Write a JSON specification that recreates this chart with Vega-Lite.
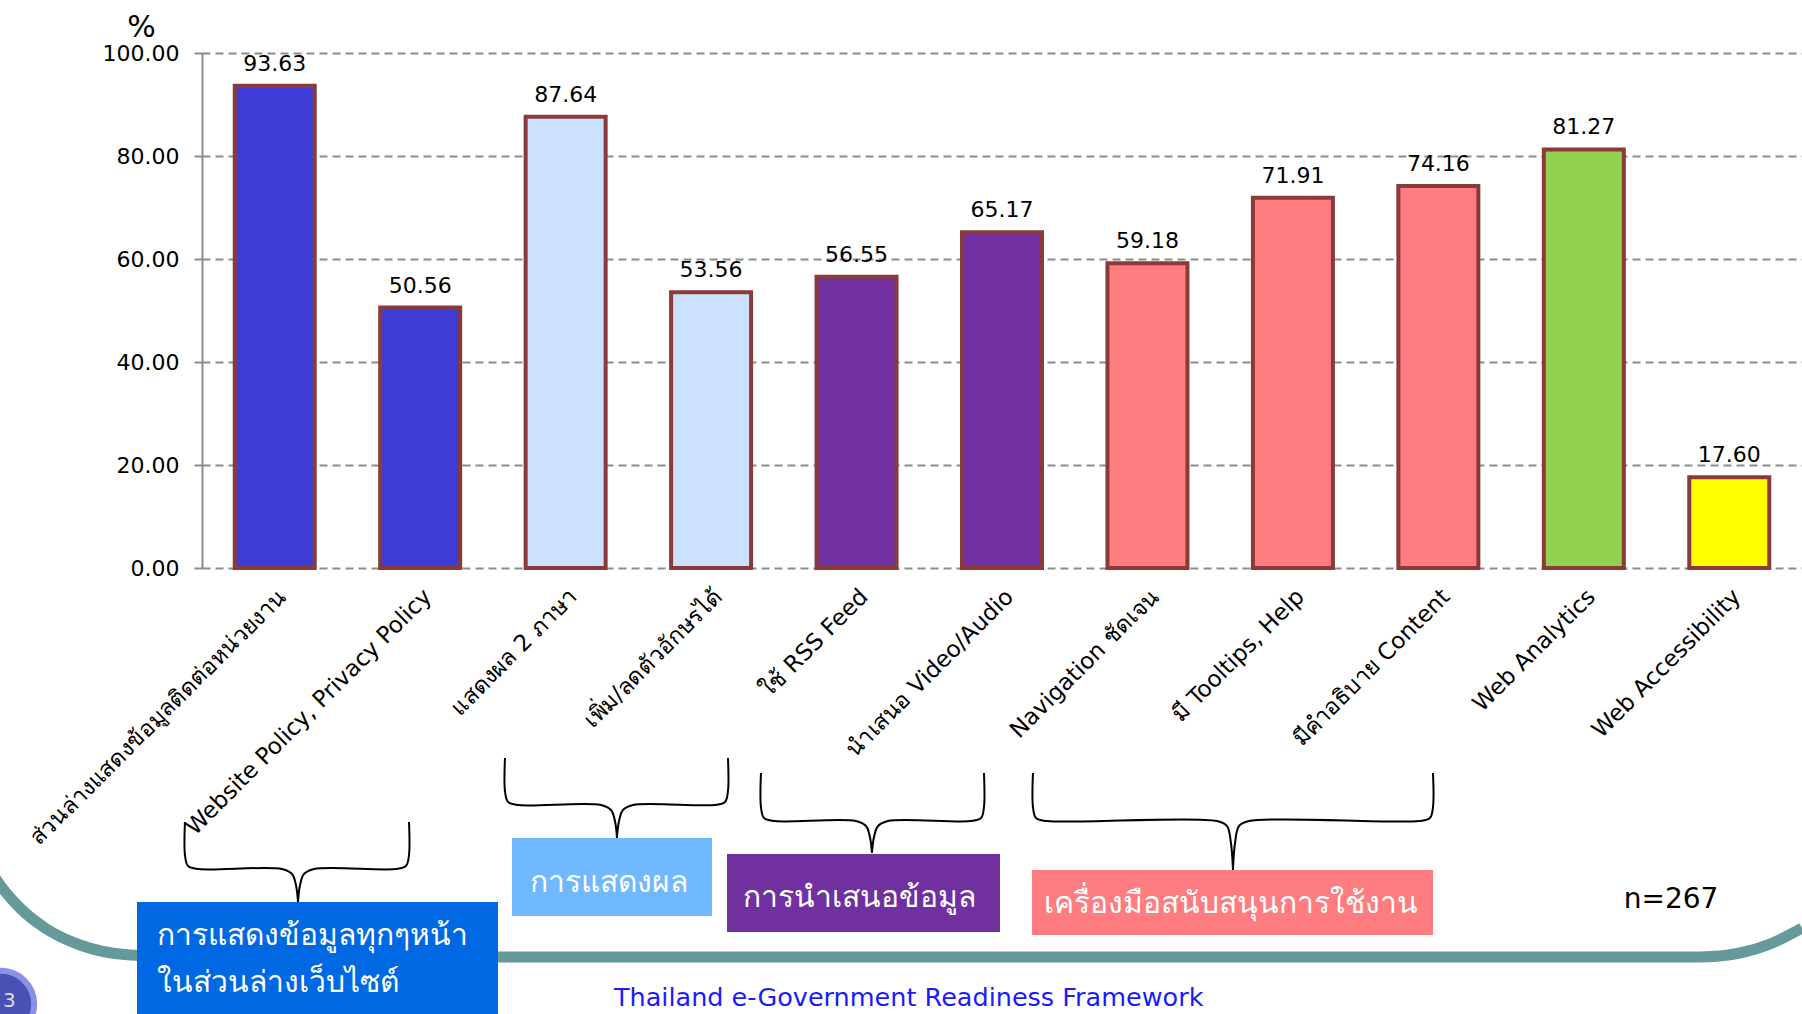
{
  "$schema": "https://vega.github.io/schema/vega-lite/v6.json",
  "width": 1600,
  "height": 515,
  "autosize": {"type": "none"},
  "padding": {"left": 202, "top": 53, "right": 0, "bottom": 446},
  "background": "white",
  "config": {"view": {"stroke": null}, "font": "DejaVu Sans"},
  "datasets": {
    "bars": [
      {"cat": "ส่วนล่างแสดงข้อมูลติดต่อหน่วยงาน", "v": 93.63, "grp": "การแสดงข้อมูลทุกๆหน้าในส่วนล่างเว็บไซต์"},
      {"cat": "Website Policy, Privacy Policy", "v": 50.56, "grp": "การแสดงข้อมูลทุกๆหน้าในส่วนล่างเว็บไซต์"},
      {"cat": "แสดงผล 2 ภาษา", "v": 87.64, "grp": "การแสดงผล"},
      {"cat": "เพิ่ม/ลดตัวอักษรได้", "v": 53.56, "grp": "การแสดงผล"},
      {"cat": "ใช้ RSS Feed", "v": 56.55, "grp": "การนำเสนอข้อมูล"},
      {"cat": "นำเสนอ Video/Audio", "v": 65.17, "grp": "การนำเสนอข้อมูล"},
      {"cat": "Navigation ชัดเจน", "v": 59.18, "grp": "เครื่องมือสนับสนุนการใช้งาน"},
      {"cat": "มี Tooltips, Help", "v": 71.91, "grp": "เครื่องมือสนับสนุนการใช้งาน"},
      {"cat": "มีคำอธิบาย Content", "v": 74.16, "grp": "เครื่องมือสนับสนุนการใช้งาน"},
      {"cat": "Web Analytics", "v": 81.27, "grp": "Web Analytics"},
      {"cat": "Web Accessibility", "v": 17.60, "grp": "Web Accessibility"}
    ],
    "teal": [
      {"k": 0, "x": -1.4575, "y": -58.64},
      {"k": 1, "x": -1.3888, "y": -61.55},
      {"k": 2, "x": -1.2513, "y": -66.02},
      {"k": 3, "x": -1.0794, "y": -69.90},
      {"k": 4, "x": -0.8388, "y": -73.20},
      {"k": 5, "x": -0.4950, "y": -75.15},
      {"k": 6, "x": -0.0138, "y": -75.53},
      {"k": 7, "x": 10.299, "y": -75.53},
      {"k": 8, "x": 10.574, "y": -74.76},
      {"k": 9, "x": 10.780, "y": -73.01},
      {"k": 10, "x": 11.0, "y": -69.90}
    ],
    "braces": [
      {"b": "1L", "k": 1, "x": -0.117, "y": -49.32},
      {"b": "1L", "k": 2, "x": -0.117, "y": -55.73},
      {"b": "1L", "k": 3, "x": -0.096, "y": -57.87},
      {"b": "1L", "k": 4, "x": -0.021, "y": -58.45},
      {"b": "1L", "k": 5, "x": 0.550, "y": -58.45},
      {"b": "1L", "k": 6, "x": 0.619, "y": -59.42},
      {"b": "1L", "k": 7, "x": 0.646, "y": -61.56},
      {"b": "1L", "k": 8, "x": 0.660, "y": -64.85},
      {"b": "1R", "k": 1, "x": 0.660, "y": -64.85},
      {"b": "1R", "k": 2, "x": 0.674, "y": -61.56},
      {"b": "1R", "k": 3, "x": 0.701, "y": -59.42},
      {"b": "1R", "k": 4, "x": 0.770, "y": -58.45},
      {"b": "1R", "k": 5, "x": 1.327, "y": -58.45},
      {"b": "1R", "k": 6, "x": 1.402, "y": -57.87},
      {"b": "1R", "k": 7, "x": 1.423, "y": -55.73},
      {"b": "1R", "k": 8, "x": 1.423, "y": -49.32},
      {"b": "2L", "k": 1, "x": 2.083, "y": -36.89},
      {"b": "2L", "k": 2, "x": 2.083, "y": -43.30},
      {"b": "2L", "k": 3, "x": 2.104, "y": -45.44},
      {"b": "2L", "k": 4, "x": 2.179, "y": -46.02},
      {"b": "2L", "k": 5, "x": 2.743, "y": -46.02},
      {"b": "2L", "k": 6, "x": 2.812, "y": -46.99},
      {"b": "2L", "k": 7, "x": 2.839, "y": -49.13},
      {"b": "2L", "k": 8, "x": 2.853, "y": -52.43},
      {"b": "2R", "k": 1, "x": 2.853, "y": -52.43},
      {"b": "2R", "k": 2, "x": 2.867, "y": -49.13},
      {"b": "2R", "k": 3, "x": 2.894, "y": -46.99},
      {"b": "2R", "k": 4, "x": 2.963, "y": -46.02},
      {"b": "2R", "k": 5, "x": 3.520, "y": -46.02},
      {"b": "2R", "k": 6, "x": 3.596, "y": -45.44},
      {"b": "2R", "k": 7, "x": 3.616, "y": -43.30},
      {"b": "2R", "k": 8, "x": 3.616, "y": -36.89},
      {"b": "3L", "k": 1, "x": 3.843, "y": -39.81},
      {"b": "3L", "k": 2, "x": 3.843, "y": -46.41},
      {"b": "3L", "k": 3, "x": 3.864, "y": -48.55},
      {"b": "3L", "k": 4, "x": 3.939, "y": -49.13},
      {"b": "3L", "k": 5, "x": 4.496, "y": -49.13},
      {"b": "3L", "k": 6, "x": 4.565, "y": -50.10},
      {"b": "3L", "k": 7, "x": 4.592, "y": -52.24},
      {"b": "3L", "k": 8, "x": 4.606, "y": -55.34},
      {"b": "3R", "k": 1, "x": 4.606, "y": -55.34},
      {"b": "3R", "k": 2, "x": 4.620, "y": -52.24},
      {"b": "3R", "k": 3, "x": 4.648, "y": -50.10},
      {"b": "3R", "k": 4, "x": 4.716, "y": -49.13},
      {"b": "3R", "k": 5, "x": 5.280, "y": -49.13},
      {"b": "3R", "k": 6, "x": 5.356, "y": -48.55},
      {"b": "3R", "k": 7, "x": 5.376, "y": -46.41},
      {"b": "3R", "k": 8, "x": 5.376, "y": -39.81},
      {"b": "4L", "k": 1, "x": 5.713, "y": -39.81},
      {"b": "4L", "k": 2, "x": 5.713, "y": -46.41},
      {"b": "4L", "k": 3, "x": 5.734, "y": -48.55},
      {"b": "4L", "k": 4, "x": 5.809, "y": -49.13},
      {"b": "4L", "k": 5, "x": 6.978, "y": -49.13},
      {"b": "4L", "k": 6, "x": 7.047, "y": -50.10},
      {"b": "4L", "k": 7, "x": 7.074, "y": -53.40},
      {"b": "4L", "k": 8, "x": 7.088, "y": -58.64},
      {"b": "4R", "k": 1, "x": 7.088, "y": -58.64},
      {"b": "4R", "k": 2, "x": 7.102, "y": -53.40},
      {"b": "4R", "k": 3, "x": 7.129, "y": -50.10},
      {"b": "4R", "k": 4, "x": 7.198, "y": -49.13},
      {"b": "4R", "k": 5, "x": 8.367, "y": -49.13},
      {"b": "4R", "k": 6, "x": 8.442, "y": -48.55},
      {"b": "4R", "k": 7, "x": 8.463, "y": -46.41},
      {"b": "4R", "k": 8, "x": 8.463, "y": -39.81}
    ],
    "boxes": [
      {"name": "การแสดงข้อมูลทุกๆหน้าในส่วนล่างเว็บไซต์", "x": -0.4469, "x2": 2.0350, "y": -64.85, "y2": -87.77},
      {"name": "การแสดงผล", "x": 2.1313, "x2": 3.5063, "y": -52.43, "y2": -67.57},
      {"name": "การนำเสนอข้อมูล", "x": 3.6094, "x2": 5.4863, "y": -55.53, "y2": -70.68},
      {"name": "เครื่องมือสนับสนุนการใช้งาน", "x": 5.7063, "x2": 8.4631, "y": -58.64, "y2": -71.26}
    ],
    "boxLines": [
      {"t": "การแสดงข้อมูลทุกๆหน้า", "x": -0.3094, "y": -73.20},
      {"t": "ในส่วนล่างเว็บไซต์", "x": -0.3094, "y": -82.33}
    ],
    "boxTitles": [
      {"t": "การแสดงผล", "x": 2.798, "y": -62.91},
      {"t": "การนำเสนอข้อมูล", "x": 4.517, "y": -65.83},
      {"t": "เครื่องมือสนับสนุนการใช้งาน", "x": 7.075, "y": -66.99}
    ],
    "note": [{"t": "n=267", "x": 10.0997, "y": -66.02}],
    "footer": [{"t": "Thailand e-Government Readiness Framework", "x": 2.8325, "y": -85.05}],
    "page": [{"t": "3", "x": -1.382, "y": -84.66, "tx": -1.325, "ty": -85.2}]
  },
  "layer": [
    {
      "layer": [
        {
          "data": {"name": "teal"},
          "mark": {"type": "line", "interpolate": "monotone", "color": "#669999", "strokeWidth": 11},
          "encoding": {
            "x": {"field": "x", "type": "quantitative", "scale": {"domain": [0, 11], "nice": false, "zero": false}, "axis": null},
            "y": {"field": "y", "type": "quantitative", "scale": {"domain": [0, 100], "nice": false, "zero": false}, "axis": null},
            "order": {"field": "k"}
          }
        },
        {
          "data": {"name": "page"},
          "mark": {"type": "point", "shape": "circle", "filled": true, "size": 4400, "fill": "#4b50b5", "stroke": "#8a90e6", "strokeWidth": 6, "opacity": 1},
          "encoding": {
            "x": {"field": "x", "type": "quantitative"},
            "y": {"field": "y", "type": "quantitative"}
          }
        },
        {
          "data": {"name": "page"},
          "mark": {"type": "text", "fontSize": 20, "color": "#dddddd", "align": "center", "baseline": "alphabetic"},
          "encoding": {
            "x": {"field": "tx", "type": "quantitative"},
            "y": {"field": "ty", "type": "quantitative"},
            "text": {"field": "t"}
          }
        },
        {
          "data": {"name": "braces"},
          "mark": {"type": "line", "interpolate": "catmull-rom", "color": "black", "strokeWidth": 2},
          "encoding": {
            "x": {"field": "x", "type": "quantitative"},
            "y": {"field": "y", "type": "quantitative"},
            "detail": {"field": "b"},
            "order": {"field": "k"}
          }
        },
        {
          "data": {"name": "boxes"},
          "mark": {"type": "rect"},
          "encoding": {
            "x": {"field": "x", "type": "quantitative"},
            "x2": {"field": "x2"},
            "y": {"field": "y", "type": "quantitative"},
            "y2": {"field": "y2"},
            "fill": {"field": "name", "type": "nominal", "legend": null,
              "scale": {"domain": ["การแสดงข้อมูลทุกๆหน้าในส่วนล่างเว็บไซต์", "การแสดงผล", "การนำเสนอข้อมูล", "เครื่องมือสนับสนุนการใช้งาน"],
                        "range": ["#0068E2", "#70B8FF", "#7030A0", "#FF7C80"]}}
          }
        },
        {
          "data": {"name": "boxLines"},
          "mark": {"type": "text", "fontSize": 30, "color": "white", "align": "left", "baseline": "alphabetic"},
          "encoding": {
            "x": {"field": "x", "type": "quantitative"},
            "y": {"field": "y", "type": "quantitative"},
            "text": {"field": "t"}
          }
        },
        {
          "data": {"name": "boxTitles"},
          "mark": {"type": "text", "fontSize": 30, "color": "white", "align": "center", "baseline": "alphabetic"},
          "encoding": {
            "x": {"field": "x", "type": "quantitative"},
            "y": {"field": "y", "type": "quantitative"},
            "text": {"field": "t"}
          }
        },
        {
          "data": {"name": "note"},
          "mark": {"type": "text", "fontSize": 28, "color": "black", "align": "center", "baseline": "alphabetic"},
          "encoding": {
            "x": {"field": "x", "type": "quantitative"},
            "y": {"field": "y", "type": "quantitative"},
            "text": {"field": "t"}
          }
        },
        {
          "data": {"name": "footer"},
          "mark": {"type": "text", "fontSize": 25.5, "color": "#1a1aff", "align": "left", "baseline": "alphabetic"},
          "encoding": {
            "x": {"field": "x", "type": "quantitative"},
            "y": {"field": "y", "type": "quantitative"},
            "text": {"field": "t"}
          }
        }
      ]
    },
    {
      "data": {"name": "bars"},
      "layer": [
        {
          "mark": {"type": "bar", "stroke": "#8B3A3A", "strokeWidth": 4},
          "encoding": {
            "x": {"field": "cat", "type": "nominal", "sort": null,
              "scale": {"paddingInner": 0.45, "paddingOuter": 0.225},
              "axis": {"orient": "bottom", "title": null, "labelAngle": -45, "labelFontSize": 23, "labelColor": "black", "labelPadding": 17, "labelLimit": 0, "domain": false, "ticks": false}},
            "y": {"field": "v", "type": "quantitative",
              "scale": {"domain": [0, 100], "nice": false, "zero": false},
              "axis": {"orient": "left", "values": [0, 20, 40, 60, 80, 100], "format": ".2f", "grid": true, "gridDash": [8, 5], "gridColor": "#8c8c8c", "gridWidth": 2,
                "domainColor": "#8c8c8c", "domainWidth": 2, "tickColor": "#8c8c8c", "tickDash": [8, 5], "tickSize": 9, "tickWidth": 2,
                "labelFontSize": 22, "labelColor": "black", "labelPadding": 14,
                "title": "%", "titleAngle": 0, "titleFontSize": 30, "titleFontWeight": "normal", "titleColor": "black",
                "titleX": -61, "titleY": -17, "titleAlign": "center", "titleBaseline": "alphabetic"}},
            "color": {"field": "grp", "type": "nominal", "legend": null,
              "scale": {"domain": ["การแสดงข้อมูลทุกๆหน้าในส่วนล่างเว็บไซต์", "การแสดงผล", "การนำเสนอข้อมูล", "เครื่องมือสนับสนุนการใช้งาน", "Web Analytics", "Web Accessibility"],
                        "range": ["#3D3DD6", "#CCE0FF", "#7030A0", "#FF7C80", "#92D050", "#FFFF00"]}}
          }
        },
        {
          "mark": {"type": "text", "baseline": "alphabetic", "dy": -15, "fontSize": 22, "color": "black"},
          "encoding": {
            "x": {"field": "cat", "type": "nominal", "sort": null},
            "y": {"field": "v", "type": "quantitative"},
            "text": {"field": "v", "type": "quantitative", "format": ".2f"}
          }
        }
      ]
    }
  ],
  "resolve": {"scale": {"x": "independent", "y": "independent"}}
}
